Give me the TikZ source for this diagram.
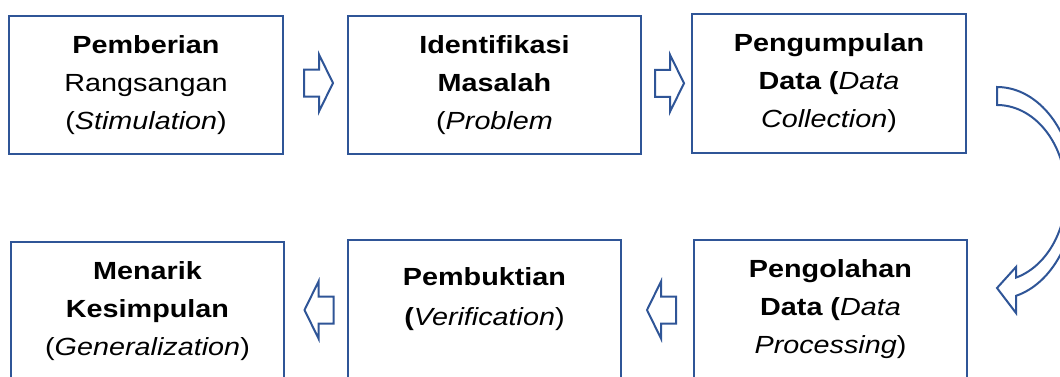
\documentclass[tikz,border=0pt]{standalone}
\usepackage{fontspec}
\setmainfont{Liberation Sans}[FakeStretch=1.16]
\usetikzlibrary{calc}
\definecolor{boxblue}{RGB}{47,85,151}

\tikzset{
	stepbox/.style={draw=boxblue, line width=1.15pt, align=center, inner sep=0pt,
		font=\fontsize{12.4pt}{19pt}\selectfont},
	hollow/.style={draw=boxblue, line width=1pt, line join=miter, fill=white},
	pics/blockarrow/.style={code={
		\draw[hollow] (-14.5,-13.5) -- (0.5,-13.5) -- (0.5,-28.5) -- (14.5,0)
		-- (0.5,28.5) -- (0.5,13.5) -- (-14.5,13.5) -- cycle;
	}}
}

\begin{document}
\begin{tikzpicture}[x=0.5pt, y=-0.5pt]

\useasboundingbox (0,0) rectangle (1060,376);
\clip (0,0) rectangle (1060,376);

% ==== Top row ====
\node[stepbox, minimum width=137pt, minimum height=69pt] (stim) at (146,85)
	{\textbf{Pemberian}\\Rangsangan\\(\textit{Stimulation})};
\node[stepbox, minimum width=146.5pt, minimum height=69pt] (prob) at (494.5,85)
	{\textbf{Identifikasi}\\\textbf{Masalah}\\(\textit{Problem}};
\node[stepbox, minimum width=137pt, minimum height=69.5pt] (coll) at (829,83.5)
	{\textbf{Pengumpulan}\\\textbf{Data (}\textit{Data}\\\textit{Collection})};

% ==== Bottom row ====
\node[stepbox, minimum width=136.5pt, minimum height=69pt] (proc) at (830.5,309)
	{\textbf{Pengolahan}\\\textbf{Data (}\textit{Data}\\\textit{Processing})};
\node[stepbox, minimum width=136.5pt, minimum height=69pt] (veri) at (484.5,309)
	{\textbf{Pembuktian}\\[1pt]\textbf{(}\textit{Verification})\\[-7pt]~};
\node[stepbox, minimum width=136.5pt, minimum height=69pt] (gene) at (147.5,311)
	{\textbf{Menarik}\\\textbf{Kesimpulan}\\(\textit{Generalization})};

% block arrows between the boxes
\pic at ($(stim.east)!0.5!(prob.west)+(3,-2)$) {blockarrow};
\pic at ($(prob.east)!0.5!(coll.west)+(3,-1)$) {blockarrow};
\pic[xscale=-1] at ($(proc.west)!0.5!(veri.east)+(4,1)$) {blockarrow};
\pic[xscale=-1] at ($(veri.west)!0.5!(gene.east)+(3,0)$) {blockarrow};

% curved arrow from the top row down to the bottom row
\draw[hollow]
	plot[domain=90:-75.9, samples=80] ({997+78*cos(\x)}, {193-106*sin(\x)})
	-- (1016,313) -- (997,288) -- (1016,267)
	-- plot[domain=-74:90, samples=80] ({997+69*cos(\x)}, {193-88*sin(\x)})
	-- cycle;

\end{tikzpicture}
\end{document}
